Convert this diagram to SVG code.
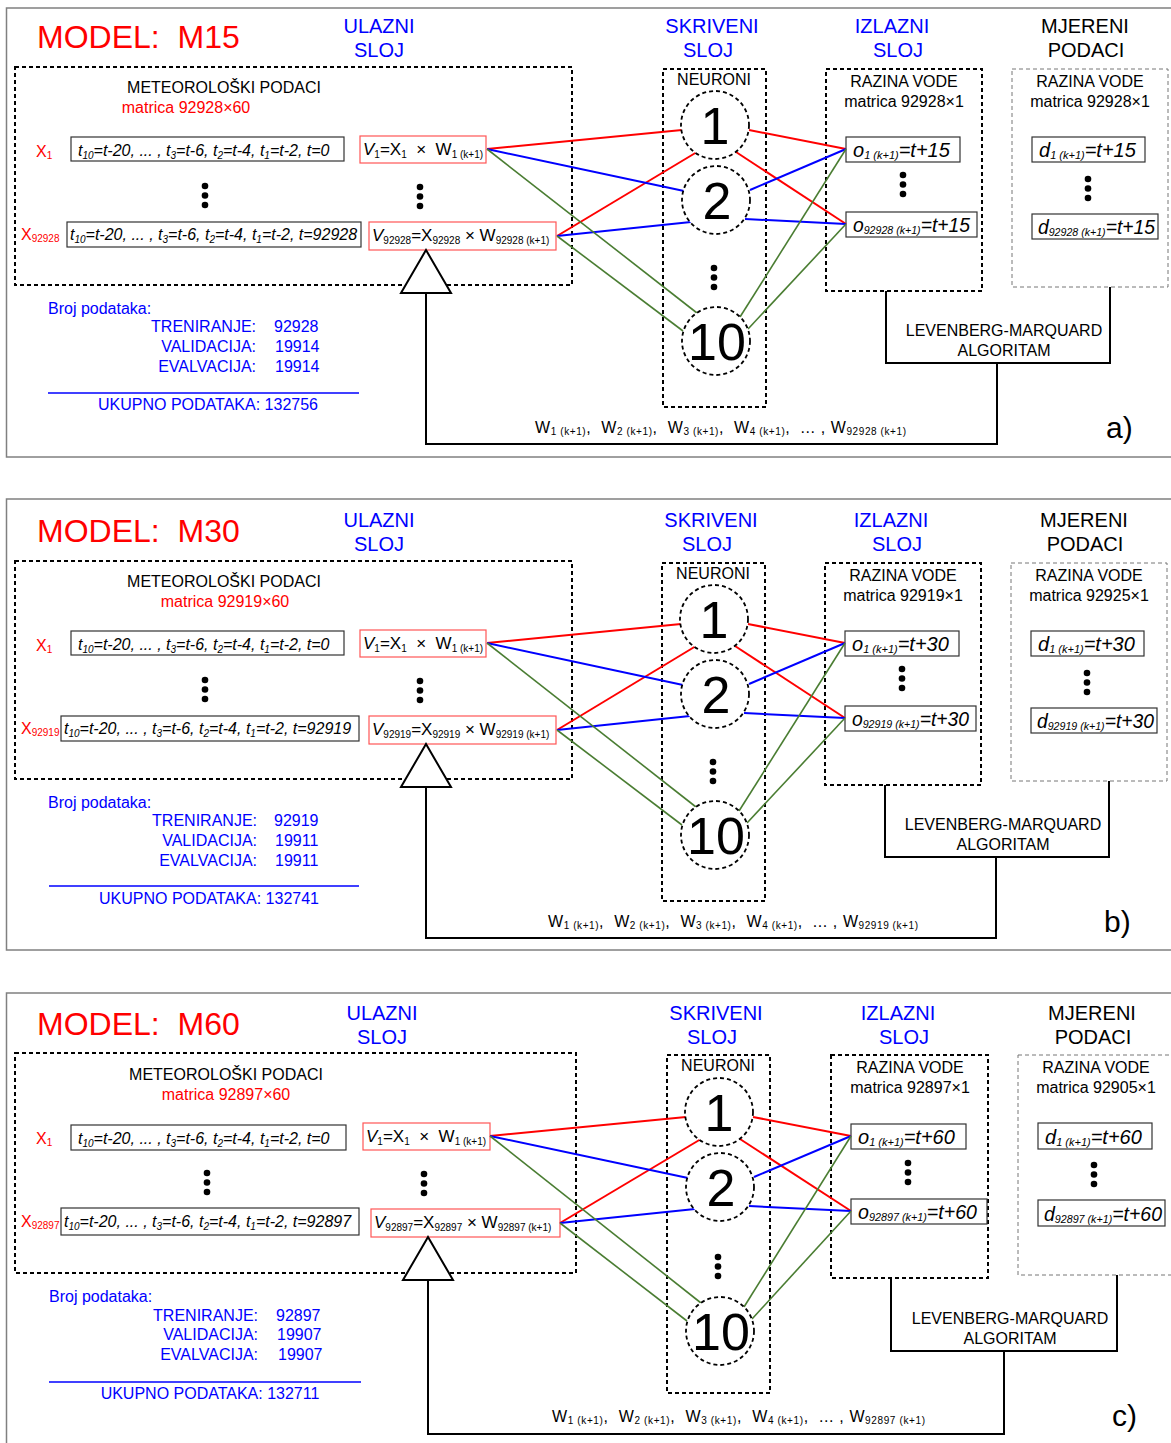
<svg xmlns="http://www.w3.org/2000/svg" xmlns:xlink="http://www.w3.org/1999/xlink" width="1171" height="1443" viewBox="0 0 1171 1443">
<style>
text{font-family:"Liberation Sans",Arial,sans-serif;fill:#000}
.title{font-size:32px;fill:#f00}
.hd{font-size:20px;fill:#00f;text-anchor:middle}
.hk{font-size:20px;fill:#000;text-anchor:middle}
.t15{font-size:16px}
.mid{text-anchor:middle}
.end{text-anchor:end}
.red{fill:#f00}
.blu{fill:#00f}
.fx{font-size:16px;font-style:italic}
.s{font-size:10px}
.v{font-size:17px}
.o{font-size:20px;font-style:italic}
.s2{font-size:11px}
.num{font-size:52px;text-anchor:middle}
.w{font-size:16px}
.lbl{font-size:30px}
.box{fill:#fff;stroke:#333;stroke-width:1.2}
.rbox{fill:#fff;stroke:#f55;stroke-width:1.2}
.dash{fill:none;stroke:#000;stroke-width:2;stroke-dasharray:4 3}
.mdash{fill:none;stroke:#777;stroke-width:1;stroke-dasharray:4 3}
.neuron{fill:#fff;stroke:#000;stroke-width:1.8;stroke-dasharray:4 3}
.frame{fill:none;stroke:#808080;stroke-width:1.5}
.ln{fill:none;stroke:#000;stroke-width:2}
.tri{fill:#fff;stroke:#000;stroke-width:2}
.cr{stroke:#f00;stroke-width:2}
.cb{stroke:#00f;stroke-width:2}
.cg{stroke:#4a7d32;stroke-width:1.6}
.bl{stroke:#00f;stroke-width:1.5}
</style>
<defs>
<g id="vdots"><circle cx="0" cy="0" r="3.3"/><circle cx="0" cy="9.5" r="3.3"/><circle cx="0" cy="19" r="3.3"/></g>
</defs>

<!-- ================= PANEL A ================= -->
<rect class="frame" x="6.5" y="8" width="1170" height="449"/>
<g id="panel-a">
<g id="a-title"><text class="title" x="37" y="48">MODEL:&#160; M15</text></g>
<g id="a-heads">
<text class="hd" x="379" y="33">ULAZNI</text><text class="hd" x="379" y="57">SLOJ</text>
<text class="hd" x="712" y="33">SKRIVENI</text><text class="hd" x="708" y="57">SLOJ</text>
<text class="hd" x="892" y="33">IZLAZNI</text><text class="hd" x="898" y="57">SLOJ</text>
<text class="hk" x="1085" y="33">MJERENI</text><text class="hk" x="1086" y="57">PODACI</text>
</g>
<g id="a-input-box">
<rect class="dash" x="15" y="67" width="557" height="218"/>
<text class="t15 mid" x="224" y="93">METEOROLOŠKI PODACI</text>
<text class="t15 mid red" x="186" y="113">matrica 92928×60</text>
</g>
<g id="a-x1">
<text class="t15 red" x="36" y="157">X<tspan class="s" dy="2">1</tspan></text>
<rect class="box" x="71" y="137" width="273" height="24"/>
<text class="fx" x="78" y="156">t<tspan class="s" dy="3">10</tspan><tspan dy="-3">=t-20, ... , t</tspan><tspan class="s" dy="3">3</tspan><tspan dy="-3">=t-6, t</tspan><tspan class="s" dy="3">2</tspan><tspan dy="-3">=t-4, t</tspan><tspan class="s" dy="3">1</tspan><tspan dy="-3">=t-2, t=0</tspan></text>
</g>
<g id="a-xn">
<text class="t15 red" x="21" y="240">X<tspan class="s" dy="2">92928</tspan></text>
<rect class="box" x="67" y="222" width="294" height="25"/>
<text class="fx" x="70" y="240">t<tspan class="s" dy="3">10</tspan><tspan dy="-3">=t-20, ... , t</tspan><tspan class="s" dy="3">3</tspan><tspan dy="-3">=t-6, t</tspan><tspan class="s" dy="3">2</tspan><tspan dy="-3">=t-4, t</tspan><tspan class="s" dy="3">1</tspan><tspan dy="-3">=t-2, t=92928</tspan></text>
</g>
<g id="a-v1">
<rect class="rbox" x="360" y="136" width="126" height="27"/>
<text class="v" x="363" y="155"><tspan font-style="italic">V</tspan><tspan class="s" dy="3">1</tspan><tspan dy="-3">=X</tspan><tspan class="s" dy="3">1</tspan><tspan dy="-3">&#160; ×&#160; W</tspan><tspan class="s" dy="3">1 (k+1)</tspan></text>
</g>
<g id="a-vn">
<rect class="rbox" x="369" y="222" width="187" height="28"/>
<text class="v" x="372" y="241"><tspan font-style="italic">V</tspan><tspan class="s" dy="3">92928</tspan><tspan dy="-3">=X</tspan><tspan class="s" dy="3">92928</tspan><tspan dy="-3">&#160;×&#160;W</tspan><tspan class="s" dy="3">92928 (k+1)</tspan></text>
</g>
<g id="a-dots-in"><use xlink:href="#vdots" x="205" y="186"/><use xlink:href="#vdots" x="420" y="187"/></g>
<g id="a-hidden">
<rect class="dash" x="663" y="69" width="103" height="338"/>
<text class="t15 mid" x="714" y="85">NEURONI</text>
<use xlink:href="#vdots" x="714" y="268"/>
</g>
<g id="a-output">
<rect class="dash" x="826" y="69" width="156" height="222"/>
<text class="t15 mid" x="904" y="87">RAZINA VODE</text>
<text class="t15 mid" x="904" y="107">matrica 92928×1</text>
<use xlink:href="#vdots" x="903" y="175"/>
</g>
<g id="a-o1"><rect class="box" x="846" y="137" width="114" height="25"/>
<text class="o" x="853" y="157">o<tspan class="s2" dy="2">1 (k+1)</tspan><tspan dy="-2">=t+15</tspan></text></g>
<g id="a-on"><rect class="box" x="846" y="212" width="131" height="25"/>
<text class="o" x="853" y="232" textLength="117" lengthAdjust="spacingAndGlyphs">o<tspan class="s2" dy="2">92928 (k+1)</tspan><tspan dy="-2">=t+15</tspan></text></g>
<g id="a-measured">
<rect class="mdash" x="1012" y="69" width="156" height="218"/>
<text class="t15 mid" x="1090" y="87">RAZINA VODE</text>
<text class="t15 mid" x="1090" y="107">matrica 92928×1</text>
<use xlink:href="#vdots" x="1088" y="179"/>
</g>
<g id="a-d1"><rect class="box" x="1032" y="137" width="113" height="25"/>
<text class="o" x="1039" y="157">d<tspan class="s2" dy="2">1 (k+1)</tspan><tspan dy="-2">=t+15</tspan></text></g>
<g id="a-dn"><rect class="box" x="1032" y="214" width="126" height="25"/>
<text class="o" x="1038" y="234" textLength="117" lengthAdjust="spacingAndGlyphs">d<tspan class="s2" dy="2">92928 (k+1)</tspan><tspan dy="-2">=t+15</tspan></text></g>
<g id="a-lm">
<polyline class="ln" points="886,291 886,363 1110,363 1110,287"/>
<text class="t15 mid" x="1004" y="336">LEVENBERG-MARQUARD</text>
<text class="t15 mid" x="1004" y="356">ALGORITAM</text>
</g>
<g id="a-stats">
<text class="t15 blu" x="48" y="314">Broj podataka:</text>
<text class="t15 blu end" x="256" y="332">TRENIRANJE:</text><text class="t15 blu" x="274" y="332">92928</text>
<text class="t15 blu end" x="256" y="352">VALIDACIJA:</text><text class="t15 blu" x="275" y="352">19914</text>
<text class="t15 blu end" x="256" y="372">EVALVACIJA:</text><text class="t15 blu" x="275" y="372">19914</text>
<line class="bl" x1="48" y1="393" x2="359" y2="393"/>
<text class="t15 blu mid" x="208" y="410">UKUPNO PODATAKA: 132756</text>
</g>
<g id="a-connectors">
<line class="cr" x1="487" y1="149" x2="682" y2="130"/>
<line class="cr" x1="557" y1="236" x2="697" y2="152"/>
<line class="cr" x1="749" y1="130" x2="846" y2="149"/>
<line class="cr" x1="736" y1="152" x2="846" y2="224"/>
<line class="cb" x1="487" y1="149" x2="684" y2="191"/>
<line class="cb" x1="557" y1="236" x2="691" y2="222"/>
<line class="cb" x1="750" y1="190" x2="846" y2="149"/>
<line class="cb" x1="745" y1="219" x2="846" y2="224"/>
<line class="cg" x1="487" y1="149" x2="697" y2="313"/>
<line class="cg" x1="557" y1="236" x2="683" y2="331"/>
<line class="cg" x1="740" y1="317" x2="846" y2="149"/>
<line class="cg" x1="748" y1="329" x2="846" y2="224"/>
<polyline class="ln" points="426,293 426,444 997,444 997,363"/>
</g>
<g id="a-trainer"><polygon class="tri" points="426,250 401,293 451,293"/></g>
<g id="a-n1"><circle class="neuron" cx="715" cy="125" r="34"/><text class="num" x="715" y="144">1</text></g>
<g id="a-n2"><circle class="neuron" cx="716" cy="200" r="34"/><text class="num" x="717" y="219">2</text></g>
<g id="a-n10"><circle class="neuron" cx="716" cy="341" r="34"/><text class="num" x="717" y="360">10</text></g>
<g id="a-weights"><text class="w" x="535" y="433" textLength="371" lengthAdjust="spacing">W<tspan class="s" dy="2">1 (k+1)</tspan><tspan dy="-2">,&#160; W</tspan><tspan class="s" dy="2">2 (k+1)</tspan><tspan dy="-2">,&#160; W</tspan><tspan class="s" dy="2">3 (k+1)</tspan><tspan dy="-2">,&#160; W</tspan><tspan class="s" dy="2">4 (k+1)</tspan><tspan dy="-2">,&#160; ... , W</tspan><tspan class="s" dy="2">92928 (k+1)</tspan></text></g>
<text class="lbl" x="1106" y="438">a)</text>
</g>

<!-- ================= PANEL B ================= -->
<rect class="frame" x="6.5" y="499" width="1170" height="451"/>
<g id="panel-b" transform="translate(0,494)">
<g id="b-title"><text class="title" x="37" y="48">MODEL:&#160; M30</text></g>
<g id="b-heads">
<text class="hd" x="379" y="33">ULAZNI</text><text class="hd" x="379" y="57">SLOJ</text>
<text class="hd" x="711" y="33">SKRIVENI</text><text class="hd" x="707" y="57">SLOJ</text>
<text class="hd" x="891" y="33">IZLAZNI</text><text class="hd" x="897" y="57">SLOJ</text>
<text class="hk" x="1084" y="33">MJERENI</text><text class="hk" x="1085" y="57">PODACI</text>
</g>
<g id="b-input-box">
<rect class="dash" x="15" y="67" width="557" height="218"/>
<text class="t15 mid" x="224" y="93">METEOROLOŠKI PODACI</text>
<text class="t15 mid red" x="225" y="113">matrica 92919×60</text>
</g>
<g id="b-x1">
<text class="t15 red" x="36" y="157">X<tspan class="s" dy="2">1</tspan></text>
<rect class="box" x="71" y="137" width="273" height="24"/>
<text class="fx" x="78" y="156">t<tspan class="s" dy="3">10</tspan><tspan dy="-3">=t-20, ... , t</tspan><tspan class="s" dy="3">3</tspan><tspan dy="-3">=t-6, t</tspan><tspan class="s" dy="3">2</tspan><tspan dy="-3">=t-4, t</tspan><tspan class="s" dy="3">1</tspan><tspan dy="-3">=t-2, t=0</tspan></text>
</g>
<g id="b-xn">
<text class="t15 red" x="21" y="240">X<tspan class="s" dy="2">92919</tspan></text>
<rect class="box" x="61" y="222" width="298" height="25"/>
<text class="fx" x="64" y="240">t<tspan class="s" dy="3">10</tspan><tspan dy="-3">=t-20, ... , t</tspan><tspan class="s" dy="3">3</tspan><tspan dy="-3">=t-6, t</tspan><tspan class="s" dy="3">2</tspan><tspan dy="-3">=t-4, t</tspan><tspan class="s" dy="3">1</tspan><tspan dy="-3">=t-2, t=92919</tspan></text>
</g>
<g id="b-v1">
<rect class="rbox" x="360" y="136" width="126" height="27"/>
<text class="v" x="363" y="155"><tspan font-style="italic">V</tspan><tspan class="s" dy="3">1</tspan><tspan dy="-3">=X</tspan><tspan class="s" dy="3">1</tspan><tspan dy="-3">&#160; ×&#160; W</tspan><tspan class="s" dy="3">1 (k+1)</tspan></text>
</g>
<g id="b-vn">
<rect class="rbox" x="369" y="222" width="187" height="28"/>
<text class="v" x="372" y="241"><tspan font-style="italic">V</tspan><tspan class="s" dy="3">92919</tspan><tspan dy="-3">=X</tspan><tspan class="s" dy="3">92919</tspan><tspan dy="-3">&#160;×&#160;W</tspan><tspan class="s" dy="3">92919 (k+1)</tspan></text>
</g>
<g id="b-dots-in"><use xlink:href="#vdots" x="205" y="186"/><use xlink:href="#vdots" x="420" y="187"/></g>
<g id="b-hidden">
<rect class="dash" x="662" y="69" width="103" height="338"/>
<text class="t15 mid" x="713" y="85">NEURONI</text>
<use xlink:href="#vdots" x="713" y="268"/>
</g>
<g id="b-output">
<rect class="dash" x="825" y="69" width="156" height="222"/>
<text class="t15 mid" x="903" y="87">RAZINA VODE</text>
<text class="t15 mid" x="903" y="107">matrica 92919×1</text>
<use xlink:href="#vdots" x="902" y="175"/>
</g>
<g id="b-o1"><rect class="box" x="845" y="137" width="114" height="25"/>
<text class="o" x="852" y="157">o<tspan class="s2" dy="2">1 (k+1)</tspan><tspan dy="-2">=t+30</tspan></text></g>
<g id="b-on"><rect class="box" x="845" y="212" width="131" height="25"/>
<text class="o" x="852" y="232" textLength="117" lengthAdjust="spacingAndGlyphs">o<tspan class="s2" dy="2">92919 (k+1)</tspan><tspan dy="-2">=t+30</tspan></text></g>
<g id="b-measured">
<rect class="mdash" x="1011" y="69" width="156" height="218"/>
<text class="t15 mid" x="1089" y="87">RAZINA VODE</text>
<text class="t15 mid" x="1089" y="107">matrica 92925×1</text>
<use xlink:href="#vdots" x="1087" y="179"/>
</g>
<g id="b-d1"><rect class="box" x="1031" y="137" width="113" height="25"/>
<text class="o" x="1038" y="157">d<tspan class="s2" dy="2">1 (k+1)</tspan><tspan dy="-2">=t+30</tspan></text></g>
<g id="b-dn"><rect class="box" x="1031" y="214" width="126" height="25"/>
<text class="o" x="1037" y="234" textLength="117" lengthAdjust="spacingAndGlyphs">d<tspan class="s2" dy="2">92919 (k+1)</tspan><tspan dy="-2">=t+30</tspan></text></g>
<g id="b-lm">
<polyline class="ln" points="885,291 885,363 1109,363 1109,287"/>
<text class="t15 mid" x="1003" y="336">LEVENBERG-MARQUARD</text>
<text class="t15 mid" x="1003" y="356">ALGORITAM</text>
</g>
<g id="b-stats">
<text class="t15 blu" x="48" y="314">Broj podataka:</text>
<text class="t15 blu end" x="257" y="332">TRENIRANJE:</text><text class="t15 blu" x="274" y="332">92919</text>
<text class="t15 blu end" x="257" y="352">VALIDACIJA:</text><text class="t15 blu" x="275" y="352">19911</text>
<text class="t15 blu end" x="257" y="372">EVALVACIJA:</text><text class="t15 blu" x="275" y="372">19911</text>
<line class="bl" x1="49" y1="392" x2="359" y2="392"/>
<text class="t15 blu mid" x="209" y="410">UKUPNO PODATAKA: 132741</text>
</g>
<g id="b-connectors">
<line class="cr" x1="487" y1="149" x2="681" y2="130"/>
<line class="cr" x1="557" y1="236" x2="696" y2="152"/>
<line class="cr" x1="748" y1="130" x2="845" y2="149"/>
<line class="cr" x1="735" y1="152" x2="845" y2="224"/>
<line class="cb" x1="487" y1="149" x2="683" y2="191"/>
<line class="cb" x1="557" y1="236" x2="690" y2="222"/>
<line class="cb" x1="749" y1="190" x2="845" y2="149"/>
<line class="cb" x1="744" y1="219" x2="845" y2="224"/>
<line class="cg" x1="487" y1="149" x2="696" y2="313"/>
<line class="cg" x1="557" y1="236" x2="682" y2="331"/>
<line class="cg" x1="739" y1="317" x2="845" y2="149"/>
<line class="cg" x1="747" y1="329" x2="845" y2="224"/>
<polyline class="ln" points="426,293 426,444 996,444 996,363"/>
</g>
<g id="b-trainer"><polygon class="tri" points="426,250 401,293 451,293"/></g>
<g id="b-n1"><circle class="neuron" cx="714" cy="125" r="34"/><text class="num" x="714" y="144">1</text></g>
<g id="b-n2"><circle class="neuron" cx="715" cy="200" r="34"/><text class="num" x="716" y="219">2</text></g>
<g id="b-n10"><circle class="neuron" cx="715" cy="341" r="34"/><text class="num" x="716" y="360">10</text></g>
<g id="b-weights"><text class="w" x="548" y="433" textLength="370" lengthAdjust="spacing">W<tspan class="s" dy="2">1 (k+1)</tspan><tspan dy="-2">,&#160; W</tspan><tspan class="s" dy="2">2 (k+1)</tspan><tspan dy="-2">,&#160; W</tspan><tspan class="s" dy="2">3 (k+1)</tspan><tspan dy="-2">,&#160; W</tspan><tspan class="s" dy="2">4 (k+1)</tspan><tspan dy="-2">,&#160; ... , W</tspan><tspan class="s" dy="2">92919 (k+1)</tspan></text></g>
<text class="lbl" x="1104" y="438">b)</text>
</g>

<!-- ================= PANEL C ================= -->
<rect class="frame" x="6.5" y="993" width="1170" height="470"/>
<g id="panel-c" transform="translate(0,987)">
<g id="c-title"><text class="title" x="37" y="48">MODEL:&#160; M60</text></g>
<g id="c-heads">
<text class="hd" x="382" y="33">ULAZNI</text><text class="hd" x="382" y="57">SLOJ</text>
<text class="hd" x="716" y="33">SKRIVENI</text><text class="hd" x="712" y="57">SLOJ</text>
<text class="hd" x="898" y="33">IZLAZNI</text><text class="hd" x="904" y="57">SLOJ</text>
<text class="hk" x="1092" y="33">MJERENI</text><text class="hk" x="1093" y="57">PODACI</text>
</g>
<g id="c-input-box">
<rect class="dash" x="15" y="66" width="561" height="220"/>
<text class="t15 mid" x="226" y="93">METEOROLOŠKI PODACI</text>
<text class="t15 mid red" x="226" y="113">matrica 92897×60</text>
</g>
<g id="c-x1">
<text class="t15 red" x="36" y="157">X<tspan class="s" dy="2">1</tspan></text>
<rect class="box" x="71" y="138" width="275" height="25"/>
<text class="fx" x="78" y="157">t<tspan class="s" dy="3">10</tspan><tspan dy="-3">=t-20, ... , t</tspan><tspan class="s" dy="3">3</tspan><tspan dy="-3">=t-6, t</tspan><tspan class="s" dy="3">2</tspan><tspan dy="-3">=t-4, t</tspan><tspan class="s" dy="3">1</tspan><tspan dy="-3">=t-2, t=0</tspan></text>
</g>
<g id="c-xn">
<text class="t15 red" x="21" y="240">X<tspan class="s" dy="2">92897</tspan></text>
<rect class="box" x="61" y="221" width="298" height="27"/>
<text class="fx" x="64" y="240">t<tspan class="s" dy="3">10</tspan><tspan dy="-3">=t-20, ... , t</tspan><tspan class="s" dy="3">3</tspan><tspan dy="-3">=t-6, t</tspan><tspan class="s" dy="3">2</tspan><tspan dy="-3">=t-4, t</tspan><tspan class="s" dy="3">1</tspan><tspan dy="-3">=t-2, t=92897</tspan></text>
</g>
<g id="c-v1">
<rect class="rbox" x="363" y="136" width="127" height="27"/>
<text class="v" x="366" y="155"><tspan font-style="italic">V</tspan><tspan class="s" dy="3">1</tspan><tspan dy="-3">=X</tspan><tspan class="s" dy="3">1</tspan><tspan dy="-3">&#160; ×&#160; W</tspan><tspan class="s" dy="3">1 (k+1)</tspan></text>
</g>
<g id="c-vn">
<rect class="rbox" x="371" y="222" width="189" height="28"/>
<text class="v" x="374" y="241"><tspan font-style="italic">V</tspan><tspan class="s" dy="3">92897</tspan><tspan dy="-3">=X</tspan><tspan class="s" dy="3">92897</tspan><tspan dy="-3">&#160;×&#160;W</tspan><tspan class="s" dy="3">92897 (k+1)</tspan></text>
</g>
<g id="c-dots-in"><use xlink:href="#vdots" x="207" y="186"/><use xlink:href="#vdots" x="424" y="187"/></g>
<g id="c-hidden">
<rect class="dash" x="667" y="68" width="103" height="338"/>
<text class="t15 mid" x="718" y="84">NEURONI</text>
<use xlink:href="#vdots" x="718" y="270"/>
</g>
<g id="c-output">
<rect class="dash" x="831" y="68" width="157" height="223"/>
<text class="t15 mid" x="910" y="86">RAZINA VODE</text>
<text class="t15 mid" x="910" y="106">matrica 92897×1</text>
<use xlink:href="#vdots" x="908" y="176"/>
</g>
<g id="c-o1"><rect class="box" x="851" y="137" width="115" height="25"/>
<text class="o" x="858" y="157">o<tspan class="s2" dy="2">1 (k+1)</tspan><tspan dy="-2">=t+60</tspan></text></g>
<g id="c-on"><rect class="box" x="851" y="212" width="136" height="25"/>
<text class="o" x="858" y="232" textLength="119" lengthAdjust="spacingAndGlyphs">o<tspan class="s2" dy="2">92897 (k+1)</tspan><tspan dy="-2">=t+60</tspan></text></g>
<g id="c-measured">
<rect class="mdash" x="1018" y="68" width="170" height="220"/>
<text class="t15 mid" x="1096" y="86">RAZINA VODE</text>
<text class="t15 mid" x="1096" y="106">matrica 92905×1</text>
<use xlink:href="#vdots" x="1094" y="178"/>
</g>
<g id="c-d1"><rect class="box" x="1038" y="136" width="114" height="26"/>
<text class="o" x="1045" y="157">d<tspan class="s2" dy="2">1 (k+1)</tspan><tspan dy="-2">=t+60</tspan></text></g>
<g id="c-dn"><rect class="box" x="1038" y="213" width="127" height="26"/>
<text class="o" x="1044" y="234" textLength="118" lengthAdjust="spacingAndGlyphs">d<tspan class="s2" dy="2">92897 (k+1)</tspan><tspan dy="-2">=t+60</tspan></text></g>
<g id="c-lm">
<polyline class="ln" points="891,291 891,364 1117,364 1117,288"/>
<text class="t15 mid" x="1010" y="337">LEVENBERG-MARQUARD</text>
<text class="t15 mid" x="1010" y="357">ALGORITAM</text>
</g>
<g id="c-stats">
<text class="t15 blu" x="49" y="315">Broj podataka:</text>
<text class="t15 blu end" x="258" y="334">TRENIRANJE:</text><text class="t15 blu" x="276" y="334">92897</text>
<text class="t15 blu end" x="258" y="353">VALIDACIJA:</text><text class="t15 blu" x="277" y="353">19907</text>
<text class="t15 blu end" x="258" y="373">EVALVACIJA:</text><text class="t15 blu" x="278" y="373">19907</text>
<line class="bl" x1="49" y1="395" x2="361" y2="395"/>
<text class="t15 blu mid" x="210" y="412">UKUPNO PODATAKA: 132711</text>
</g>
<g id="c-connectors">
<line class="cr" x1="490" y1="149" x2="686" y2="130"/>
<line class="cr" x1="560" y1="236" x2="701" y2="152"/>
<line class="cr" x1="753" y1="130" x2="851" y2="149"/>
<line class="cr" x1="740" y1="152" x2="851" y2="224"/>
<line class="cb" x1="490" y1="149" x2="688" y2="191"/>
<line class="cb" x1="560" y1="236" x2="695" y2="222"/>
<line class="cb" x1="754" y1="190" x2="851" y2="149"/>
<line class="cb" x1="749" y1="219" x2="851" y2="224"/>
<line class="cg" x1="490" y1="149" x2="701" y2="316"/>
<line class="cg" x1="560" y1="236" x2="687" y2="334"/>
<line class="cg" x1="744" y1="320" x2="851" y2="149"/>
<line class="cg" x1="752" y1="332" x2="851" y2="224"/>
<polyline class="ln" points="428,293 428,447 1004,447 1004,364"/>
</g>
<g id="c-trainer"><polygon class="tri" points="428,250 403,293 453,293"/></g>
<g id="c-n1"><circle class="neuron" cx="719" cy="125" r="34"/><text class="num" x="719" y="144">1</text></g>
<g id="c-n2"><circle class="neuron" cx="720" cy="200" r="34"/><text class="num" x="721" y="219">2</text></g>
<g id="c-n10"><circle class="neuron" cx="720" cy="344" r="34"/><text class="num" x="721" y="363">10</text></g>
<g id="c-weights"><text class="w" x="552" y="435" textLength="373" lengthAdjust="spacing">W<tspan class="s" dy="2">1 (k+1)</tspan><tspan dy="-2">,&#160; W</tspan><tspan class="s" dy="2">2 (k+1)</tspan><tspan dy="-2">,&#160; W</tspan><tspan class="s" dy="2">3 (k+1)</tspan><tspan dy="-2">,&#160; W</tspan><tspan class="s" dy="2">4 (k+1)</tspan><tspan dy="-2">,&#160; ... , W</tspan><tspan class="s" dy="2">92897 (k+1)</tspan></text></g>
<text class="lbl" x="1112" y="439">c)</text>
</g>
</svg>
